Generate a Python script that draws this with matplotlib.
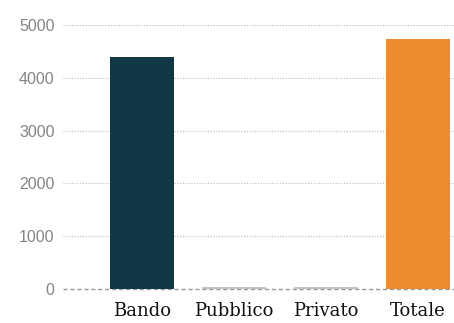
import matplotlib.pyplot as plt

categories = ["Bando", "Pubblico", "Privato", "Totale"]
values = [4400, 40, 40, 4740]
colors = ["#113945", "#b9c5ca", "#b9c5ca", "#ee8b30"]
yticks = [0, 1000, 2000, 3000, 4000, 5000]

fig = plt.figure(figsize=(4.54, 3.23), dpi=100)
ax = fig.add_axes([63 / 454, 34 / 323, 391 / 454, 264 / 323])

x = list(range(len(categories)))
ax.bar(x, values, width=0.7, color=colors, zorder=3)

ax.set_xlim(-0.86, 3.39)
ax.set_ylim(0, 5000)
ax.set_yticks(yticks)
ax.set_yticklabels([str(v) for v in yticks], family="Liberation Sans",
                   fontsize=11.5, color="#858585")
ax.set_xticks(x)
ax.set_xticklabels(categories, family="DejaVu Serif", fontsize=13, color="#111111")
ax.tick_params(axis="y", length=0, pad=6)
ax.tick_params(axis="x", length=0, pad=9)

for v in yticks[1:]:
    ax.axhline(v, color="#bbbbbb", lw=0.8, ls=(0, (1, 1.5)), zorder=1)
ax.axhline(0, color="#999999", lw=1.0, ls=(0, (3, 2)), zorder=2, clip_on=False)

for s in ax.spines.values():
    s.set_visible(False)

fig.savefig("out.png", dpi=100)
